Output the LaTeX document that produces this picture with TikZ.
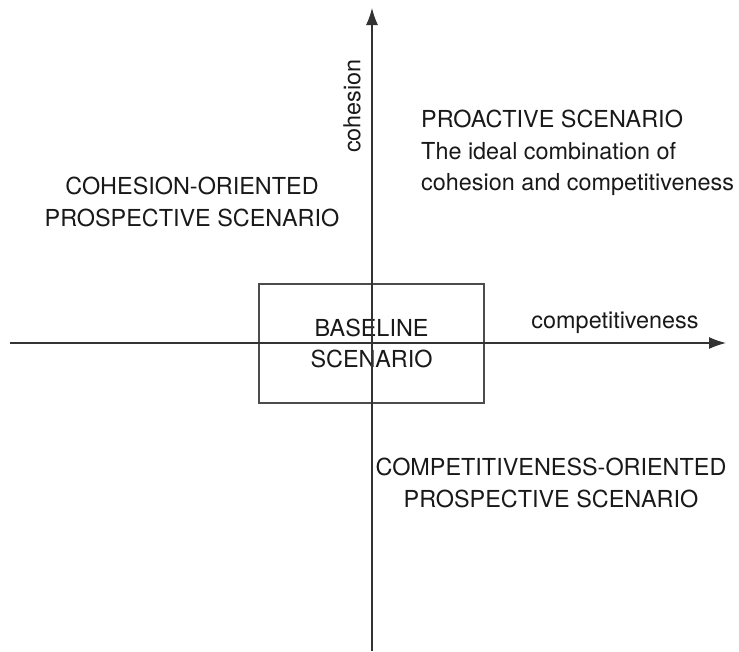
\documentclass[tikz,border=0pt]{standalone}
\usepackage{fontspec}
\setmainfont{TeX Gyre Heros}
\usetikzlibrary{arrows.meta}
\begin{document}
\begin{tikzpicture}[x=1pt,y=-1pt,
  axis/.style={draw=black!80,line width=1.3pt,-{Latex[length=17pt,width=12pt]}},
  lbl/.style={inner sep=0pt,text=black!90,font=\fontsize{23.4}{31.5}\selectfont},
  frame/.style={draw=black!70,line width=1.1pt,minimum width=225pt,minimum height=119pt,inner sep=0pt}]
  \useasboundingbox (0,0) rectangle (739,651);
  % axes
  \coordinate (vbot) at (372,651);
  \coordinate (vtop) at (372,8);
  \coordinate (hleft) at (10,343);
  \coordinate (hright) at (726,343);
  % baseline box
  \node[frame,lbl,align=center] (base) at (371.5,343.5) {BASELINE\\SCENARIO};
  \draw[axis] (vbot) -- (vtop);
  \draw[axis] (hleft) -- (hright);
  % axis labels
  \node[lbl,rotate=90] (coh) at (352,106) {cohesion};
  \node[lbl] (comp) at (615,323) {competitiveness};
  % quadrant labels
  \node[lbl,anchor=west,align=left] (pro) at (421,153)
    {PROACTIVE SCENARIO\\The ideal combination of\\cohesion and competitiveness};
  \node[lbl,align=center] (cohor) at (192,202)
    {COHESION-ORIENTED\\PROSPECTIVE SCENARIO};
  \node[lbl,align=center] (compor) at (551,483)
    {COMPETITIVENESS-ORIENTED\\PROSPECTIVE SCENARIO};
\end{tikzpicture}
\end{document}
